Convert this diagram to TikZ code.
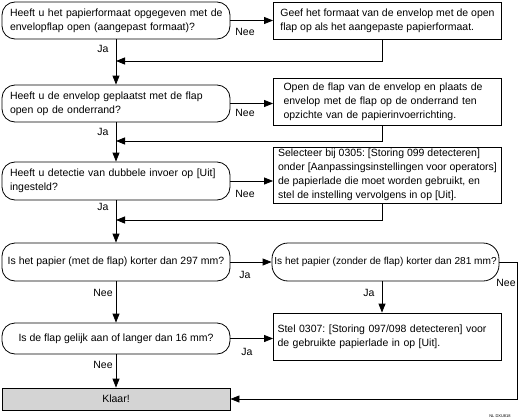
\documentclass[tikz,border=0pt]{standalone}
\usepackage{fontspec}
\setmainfont{Liberation Sans}
\usetikzlibrary{arrows.meta}
\begin{document}
\frenchspacing
\begin{tikzpicture}[x=1pt,y=-1pt,
  every node/.style={font=\fontsize{10.5}{14}\selectfont},
  box/.style={draw, line width=0.8pt, inner sep=0pt, minimum width=228pt},
  dec/.style={box, rounded corners=13pt},
  decl/.style={dec, align=left, inner xsep=8pt, text width=212pt},
  act/.style={box, align=left},
  lbl/.style={inner sep=1pt},
  arr/.style={line width=0.8pt, -{Triangle[length=9pt,width=7pt]}},
  ln/.style={line width=0.8pt}]
\useasboundingbox (0,0) rectangle (519,420);

\node[decl, minimum height=37pt] (d1) at (116,20.5) {\mbox{Heeft u het papierformaat opgegeven met de}\\\mbox{envelopflap open (aangepast formaat)?}};
\node[act, minimum height=37pt] (a1) at (387.5,20.5) {Geef het formaat van de envelop met de open\\flap op als het aangepaste papierformaat.};
\node[decl, minimum height=37pt] (d2) at (116,103.5) {\mbox{Heeft u de envelop geplaatst met de flap}\\\mbox{open op de onderrand?}};
\node[act, minimum height=47pt, inner xsep=10pt, text width=208pt] (a2) at (387.5,101.5) {\mbox{Open de flap van de envelop en plaats de}\\\mbox{envelop met de flap op de onderrand ten}\\\mbox{opzichte van de papierinvoerrichting.}};
\node[decl, minimum height=38pt] (d3) at (116,181) {\mbox{Heeft u detectie van dubbele invoer op [Uit]}\\\mbox{ingesteld?}};
\node[act, minimum height=56pt] (a3) at (387.5,175) {Selecteer bij 0305: [Storing 099 detecteren]\\onder [Aanpassingsinstellingen voor operators]\\de papierlade die moet worden gebruikt, en\\stel de instelling vervolgens in op [Uit].};
\node[dec, minimum height=38pt] (d4) at (116,262) {Is het papier (met de flap) korter dan 297 mm?};
\node[dec, rounded corners=16pt, minimum width=227pt, minimum height=38pt, font=\fontsize{10.1}{14}\selectfont] (d5) at (385.5,262) {Is het papier (zonder de flap) korter dan 281 mm?};
\node[act, minimum height=47pt, inner xsep=4pt, text width=220pt] (a5) at (387.5,336.5) {\mbox{Stel 0307: [Storing 097/098 detecteren] voor}\\\mbox{de gebruikte papierlade in op [Uit].}};
\node[dec, minimum height=31pt] (d6) at (116,338.5) {Is de flap gelijk aan of langer dan 16 mm?};
\node[box, fill=gray!34, minimum height=22pt] (klaar) at (116,399) {Klaar!};

\coordinate (j1) at (116,61);
\coordinate (j2) at (116,141);
\coordinate (j3) at (116,220);

\draw[arr] (d1) -- (a1);
\node[lbl] (n1) at (245,32) {Nee};
\draw[arr] (d1) -- (d2);
\node[lbl] (y1) at (103,49) {Ja};
\draw[arr] ([xshift=-5pt]a1.south) |- (j1);

\draw[arr] (d2.east) -- (d2.east -| a2.west);
\node[lbl] (n2) at (245,113) {Nee};
\draw[arr] (d2) -- (d3);
\node[lbl] (y2) at (103,132) {Ja};
\draw[arr] ([xshift=-5pt]a2.south) |- (j2);

\draw[arr] (d3.east) -- (d3.east -| a3.west);
\node[lbl] (n3) at (245,194) {Nee};
\draw[arr] (d3) -- (d4);
\node[lbl] (y3) at (103,207) {Ja};
\draw[arr] ([xshift=-5pt]a3.south) |- (j3);

\draw[arr] (d4) -- (d5);
\node[lbl] (y4) at (245,275) {Ja};
\draw[arr] (d4) -- (d6);
\node[lbl] (n4) at (103,293) {Nee};

\draw[arr] ([xshift=-3.5pt]d5.south) -- ([xshift=-5.5pt]a5.north);
\node[lbl] (y5) at (369,293) {Ja};
\draw[arr] (d5.east) -- ++(18,0) |- (klaar.east);
\node[lbl] (n5) at (506,283) {Nee};

\draw[arr] (d6.east) -- (d6.east -| a5.west);
\node[lbl] (y6) at (247,352) {Ja};
\draw[arr] (d6) -- (klaar);
\node[lbl] (n6) at (103,365) {Nee};

\node[font=\fontsize{4}{5}\selectfont] (code) at (500,416) {NL DXU818};
\end{tikzpicture}
\end{document}
